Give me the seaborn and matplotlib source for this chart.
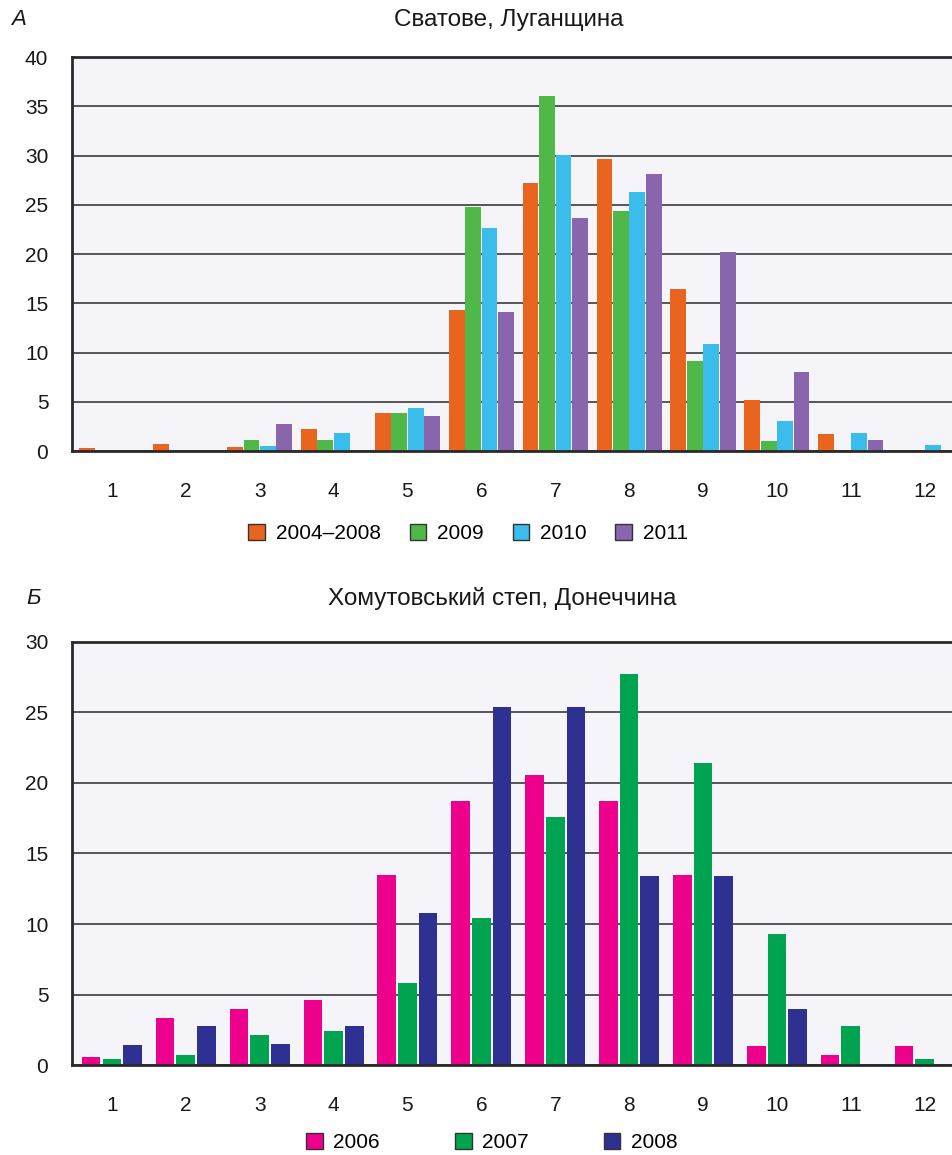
import pandas as pd
import seaborn as sns
import matplotlib.pyplot as plt
from matplotlib.patches import Patch

# categories on x axis
classes = list(range(1, 13))

# panel A - Сватове, Луганщина
years_a = ["2004–2008", "2009", "2010", "2011"]
a_2004_2008 = [0.3, 0.7, 0.4, 2.2, 3.9, 14.3, 27.2, 29.7, 16.5, 5.2, 1.7, 0.0]
a_2009 = [0.0, 0.0, 1.1, 1.1, 3.9, 24.8, 36.0, 24.4, 9.1, 1.0, 0.0, 0.0]
a_2010 = [0.0, 0.0, 0.5, 1.8, 4.4, 22.6, 30.1, 26.3, 10.9, 3.0, 1.8, 0.6]
a_2011 = [0.0, 0.0, 2.7, 0.0, 3.6, 14.1, 23.7, 28.1, 20.2, 8.0, 1.1, 0.0]
colors_a = ["#E8641F", "#50B848", "#3ABDEC", "#8865AC"]

# panel Б - Хомутовський степ, Донеччина
years_b = ["2006", "2007", "2008"]
b_2006 = [0.6, 3.3, 4.0, 4.6, 13.5, 18.7, 20.6, 18.7, 13.5, 1.35, 0.7, 1.35]
b_2007 = [0.4, 0.7, 2.1, 2.4, 5.8, 10.4, 17.6, 27.7, 21.4, 9.3, 2.8, 0.4]
b_2008 = [1.4, 2.8, 1.5, 2.8, 10.8, 25.4, 25.4, 13.4, 13.4, 4.0, 0.0, 0.0]
colors_b = ["#EC008C", "#00A34F", "#2E3192"]


def to_long(series, names):
    frames = []
    for vals, name in zip(series, names):
        frames.append(pd.DataFrame({"cls": [str(c) for c in classes], "val": vals, "year": name}))
    return pd.concat(frames, axis = 0, ignore_index = True)


df_a = to_long([a_2004_2008, a_2009, a_2010, a_2011], years_a)
df_b = to_long([b_2006, b_2007, b_2008], years_b)

plt.rcParams["font.family"] = ["Liberation Sans", "DejaVu Sans"]
plt.rcParams["font.size"] = 15
text_col = "#1a1718"
fs = 15

fig = plt.figure(figsize = (9.52, 11.55), dpi = 100)
ax_a = fig.add_axes([0.0756, 0.6095, 0.9244, 0.3411])
ax_b = fig.add_axes([0.0756, 0.0779, 0.9244, 0.3663])


def style_axes(ax, ymax, step):
    ax.set_facecolor("#F4F4F9")
    ax.set_axisbelow(True)
    ax.yaxis.grid(True, color = "#3a3a3a", lw = 1.2)
    ax.xaxis.grid(False)
    ax.set_ylim(0, ymax)
    ax.set_yticks(range(0, ymax + 1, step))
    ax.set_xlim(-0.54, 11.37)
    ax.tick_params(axis = "both", length = 0, colors = text_col, labelsize = fs)
    ax.tick_params(axis = "x", pad = 22)
    ax.tick_params(axis = "y", pad = 17)
    for side in ["left", "bottom", "top"]:
        ax.spines[side].set_color("#2a2a2a")
        ax.spines[side].set_linewidth(2)
    ax.spines["right"].set_visible(False)
    ax.set(xlabel = "", ylabel = "")


# panel A
sns.barplot(data = df_a, x = "cls", y = "val", hue = "year", palette = colors_a, ax = ax_a,
            width = 0.89, gap = 0.04, linewidth = 0, saturation = 1, legend = False)
style_axes(ax_a, 40, 5)
handles_a = [Patch(facecolor = c, edgecolor = "#333333", linewidth = 1) for c in colors_a]
ax_a.legend(handles_a, years_a, loc = "center", bbox_to_anchor = (0.45, -0.21), ncol = 4, frameon = False,
            handlelength = 0.8, handleheight = 0.8, handletextpad = 0.5, columnspacing = 1.4, fontsize = fs)
fig.text(0.012, 0.983, "А", fontsize = 16, style = "italic", color = text_col, va = "center")
fig.text(0.534, 0.983, "Сватове, Луганщина", fontsize = 17.5, color = text_col, ha = "center", va = "center")

# panel Б
sns.barplot(data = df_b, x = "cls", y = "val", hue = "year", palette = colors_b, ax = ax_b,
            width = 0.84, gap = 0.1, linewidth = 0, saturation = 1, legend = False)
style_axes(ax_b, 30, 5)
handles_b = [Patch(facecolor = c, edgecolor = "#333333", linewidth = 1) for c in colors_b]
ax_b.legend(handles_b, years_b, loc = "center", bbox_to_anchor = (0.477, -0.184), ncol = 3, frameon = False,
            handlelength = 0.8, handleheight = 0.8, handletextpad = 0.5, columnspacing = 3.6, fontsize = fs)
fig.text(0.028, 0.482, "Б", fontsize = 16, style = "italic", color = text_col, va = "center")
fig.text(0.528, 0.482, "Хомутовський степ, Донеччина", fontsize = 17.5, color = text_col, ha = "center",
         va = "center")

fig.savefig("out.png", dpi = 100)
